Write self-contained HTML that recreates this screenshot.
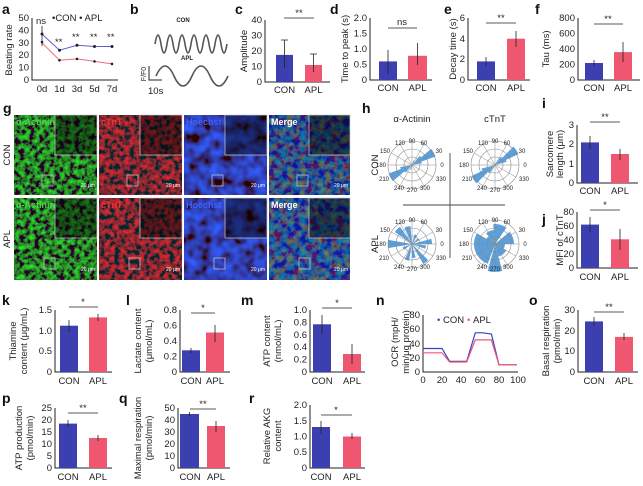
<!DOCTYPE html>
<html><head><meta charset="utf-8"><style>
html,body{margin:0;padding:0;background:#fff}
svg{display:block}
text{font-family:"Liberation Sans",Arial,sans-serif;fill:#222}
.t{font-size:9.5px}
.l{font-size:14px;font-weight:bold;fill:#111}
.ax{stroke:#222;stroke-width:1;fill:none}
.cb{fill:#3b3fb0}
.ab{fill:#ef5670}
.eb{stroke:#222;stroke-width:0.8;fill:none}
</style></head><body>
<svg width="643" height="486" viewBox="0 0 643 486" xmlns="http://www.w3.org/2000/svg">
<defs>
<filter id="fG" x="0" y="0" width="100%" height="100%"><feTurbulence type="fractalNoise" baseFrequency="0.2" numOctaves="3" seed="2"/><feColorMatrix type="matrix" values="0 0 0 0 0.02  1.7 0 0 0 -0.62  0 0 0 0 0.02  0 0 0 0 1"/></filter>
<filter id="fR" x="0" y="0" width="100%" height="100%"><feTurbulence type="fractalNoise" baseFrequency="0.2" numOctaves="3" seed="5"/><feColorMatrix type="matrix" values="1.7 0 0 0 -0.62  0 0 0 0 0.02  0 0 0 0 0.03  0 0 0 0 1"/></filter>
<filter id="fB" x="0" y="0" width="100%" height="100%"><feTurbulence type="fractalNoise" baseFrequency="0.09" numOctaves="2" seed="8"/><feColorMatrix type="matrix" values="0 0 0 0 0.03  0.2 0 0 0 -0.05  1.9 0 0 0 -0.5  0 0 0 0 1"/></filter>
<filter id="fM" x="0" y="0" width="100%" height="100%"><feTurbulence type="fractalNoise" baseFrequency="0.16" numOctaves="3" seed="11"/><feColorMatrix type="matrix" values="1.6 0 0 0 -0.7  0 2 0 0 -0.75  -1.5 0 0 0 1.0  0 0 0 0 1"/></filter>
</defs>

<!-- a -->
<text class="l" x="2" y="14">a</text>
<g class="ax"><path d="M32 18V80H118"/></g>
<g class="t" text-anchor="end"><text x="29" y="21">50</text><text x="29" y="33.4">40</text><text x="29" y="45.8">30</text><text x="29" y="58.2">20</text><text x="29" y="70.6">10</text><text x="29" y="83">0</text></g>
<text class="t" transform="translate(12,50) rotate(-90)" text-anchor="middle">Beating rate</text>
<g class="t" text-anchor="middle"><text x="42" y="92">0d</text><text x="59.5" y="92">1d</text><text x="77" y="92">3d</text><text x="94.5" y="92">5d</text><text x="112" y="92">7d</text></g>
<polyline points="42,34.1 59.5,50.2 77,45.3 94.5,46.5 112,46.5" stroke="#5a5fd0" fill="none" stroke-width="1"/>
<polyline points="42,42.8 59.5,60.2 77,58.9 94.5,61.4 112,63.9" stroke="#ef6a80" fill="none" stroke-width="1"/>
<g fill="#222"><circle cx="42" cy="34" r="1.5"/><circle cx="59.5" cy="50.2" r="1.5"/><circle cx="77" cy="45.3" r="1.5"/><circle cx="94.5" cy="46.5" r="1.5"/><circle cx="112" cy="46.5" r="1.5"/><circle cx="59.5" cy="60.2" r="1.3"/><circle cx="77" cy="58.9" r="1.3"/><circle cx="94.5" cy="61.4" r="1.3"/><circle cx="112" cy="63.9" r="1.3"/><circle cx="42" cy="42" r="1.3"/></g>
<path d="M42 26V46" class="eb"/>
<g class="t"><text x="36" y="24">ns</text><text x="55" y="45">**</text><text x="72" y="40">**</text><text x="90" y="40">**</text><text x="107" y="40">**</text></g>
<text class="t" x="52" y="21">•CON • APL</text>

<!-- b -->
<text class="l" x="130" y="14">b</text>
<text x="183" y="22" font-size="6" font-weight="bold" text-anchor="middle">CON</text>
<path d="M155 44 q3 -18 6 0 q3 18 6 0 q3 -18 6 0 q3 18 6 0 q3 -18 6 0 q3 18 6 0 q3 -18 6 0 q3 18 6 0 q3 -18 6 0 q3 18 6 0 q3 -18 6 0 q3 18 6 0" stroke="#555" stroke-width="1.6" fill="none"/>
<text x="187" y="60" font-size="6" font-weight="bold" text-anchor="middle">APL</text>
<path d="M156 76 q9 -20 18 0 t18 0 t18 0 t18 0" stroke="#555" stroke-width="1.6" fill="none"/>
<path d="M149 66V80H162" stroke="#222" fill="none"/>
<text x="148" y="94" class="t">10s</text>
<text transform="translate(146,74) rotate(-90)" font-size="7" text-anchor="middle">F/F0</text>

<!-- c -->
<text class="l" x="235" y="14">c</text>
<path class="ax" d="M265 20V82H330"/>
<g class="t" text-anchor="end"><text x="262" y="23">40</text><text x="262" y="38.5">30</text><text x="262" y="54">20</text><text x="262" y="69.5">10</text><text x="262" y="85">0</text></g>
<text class="t" transform="translate(247,51) rotate(-90)" text-anchor="middle">Amplitude</text>
<rect class="cb" x="276" y="54.9" width="17" height="27.1"/><rect class="ab" x="305" y="65" width="17" height="17"/>
<path class="eb" d="M284.5 40V68M281 40h7M313.5 54V72M310 54h7"/>
<path class="eb" d="M284 18H314"/><text class="t" x="299" y="16" text-anchor="middle">**</text>
<g class="t" text-anchor="middle"><text x="284.5" y="93">CON</text><text x="313.5" y="93">APL</text></g>

<!-- d -->
<text class="l" x="330" y="14">d</text>
<path class="ax" d="M370 18V80H432"/>
<g class="t" text-anchor="end"><text x="367" y="21">2.0</text><text x="367" y="36.5">1.5</text><text x="367" y="52">1.0</text><text x="367" y="67.5">0.5</text><text x="367" y="83">0</text></g>
<text class="t" transform="translate(348,49) rotate(-90)" text-anchor="middle">Time to peak (s)</text>
<rect class="cb" x="379" y="61.4" width="18" height="18.6"/><rect class="ab" x="408" y="55.8" width="19" height="24.2"/>
<path class="eb" d="M388 50V74M417.5 43V65"/>
<path class="eb" d="M388 28H417"/><text class="t" x="402" y="25" text-anchor="middle">ns</text>
<g class="t" text-anchor="middle"><text x="388" y="91">CON</text><text x="417.5" y="91">APL</text></g>

<!-- e -->
<text class="l" x="444" y="14">e</text>
<path class="ax" d="M468 18V80H530"/>
<g class="t" text-anchor="end"><text x="465" y="21">6</text><text x="465" y="42">4</text><text x="465" y="62">2</text><text x="465" y="83">0</text></g>
<text class="t" transform="translate(456,49) rotate(-90)" text-anchor="middle">Decay time (s)</text>
<rect class="cb" x="477" y="61.4" width="18" height="18.6"/><rect class="ab" x="507" y="38.7" width="18" height="41.3"/>
<path class="eb" d="M486 57V66M516 31V47"/>
<path class="eb" d="M486 23H516"/><text class="t" x="501" y="21" text-anchor="middle">**</text>
<g class="t" text-anchor="middle"><text x="486" y="91">CON</text><text x="516" y="91">APL</text></g>

<!-- f -->
<text class="l" x="535" y="14">f</text>
<path class="ax" d="M578 18V80H640"/>
<g class="t" text-anchor="end"><text x="575" y="21">800</text><text x="575" y="36.5">600</text><text x="575" y="52">400</text><text x="575" y="67.5">200</text><text x="575" y="83">0</text></g>
<text class="t" transform="translate(549,49) rotate(-90)" text-anchor="middle">Tau (ms)</text>
<rect class="cb" x="585" y="63" width="18" height="17"/><rect class="ab" x="614" y="52.1" width="18" height="27.9"/>
<path class="eb" d="M594 60V66M623 42V62"/>
<path class="eb" d="M594 24H623"/><text class="t" x="608" y="22" text-anchor="middle">**</text>
<g class="t" text-anchor="middle"><text x="594" y="91">CON</text><text x="623" y="91">APL</text></g>

<!-- g -->
<text class="l" x="3" y="113">g</text>
<text class="t" transform="translate(10,155) rotate(-90)" text-anchor="middle">CON</text>
<text class="t" transform="translate(10,239) rotate(-90)" text-anchor="middle">APL</text>
<g>
<rect x="14" y="115" width="83" height="80" filter="url(#fG)"/>
<rect x="99" y="115" width="83" height="80" filter="url(#fR)"/>
<rect x="184" y="115" width="83" height="80" filter="url(#fB)"/>
<rect x="269" y="115" width="81" height="80" fill="#1a2688"/><rect x="269" y="115" width="81" height="80" filter="url(#fM)" opacity="0.45"/>
<rect x="14" y="198" width="83" height="82" filter="url(#fG)"/>
<rect x="99" y="198" width="83" height="82" filter="url(#fR)"/>
<rect x="184" y="198" width="83" height="82" filter="url(#fB)"/>
<rect x="269" y="198" width="81" height="82" fill="#1c2a94"/><rect x="269" y="198" width="81" height="82" filter="url(#fM)" opacity="0.45"/>
</g>
<g fill="#000" fill-opacity="0.45" stroke="#ccc" stroke-width="0.7">
<rect x="55" y="115" width="42" height="40"/><rect x="140" y="115" width="42" height="40"/><rect x="225" y="115" width="42" height="40"/><rect x="309" y="115" width="41" height="40"/>
<rect x="55" y="198" width="42" height="40"/><rect x="140" y="198" width="42" height="40"/><rect x="225" y="198" width="42" height="40"/><rect x="309" y="198" width="41" height="40"/>
</g>
<g fill="none" stroke="#ccc" stroke-width="0.7">
<rect x="42" y="175" width="11" height="11"/><rect x="127" y="175" width="11" height="11"/><rect x="212" y="175" width="11" height="11"/><rect x="297" y="175" width="11" height="11"/>
<rect x="44" y="258" width="11" height="11"/><rect x="129" y="258" width="11" height="11"/><rect x="214" y="258" width="11" height="11"/><rect x="299" y="258" width="11" height="11"/>
</g>
<g font-size="9" font-weight="bold">
<text x="16" y="125" style="fill:#4dd04d">α-Actinin</text><text x="101" y="125" style="fill:#ff3030">cTnT</text><text x="186" y="125" style="fill:#4060ff">Hoechst</text><text x="271" y="125" style="fill:#fff">Merge</text>
<text x="16" y="208" style="fill:#4dd04d">α-Actinin</text><text x="101" y="208" style="fill:#ff3030">cTnT</text><text x="186" y="208" style="fill:#4060ff">Hoechst</text><text x="271" y="208" style="fill:#fff">Merge</text>
</g>
<g font-size="5"><text x="81" y="187" style="fill:#fff">20 μm</text><text x="166" y="187" style="fill:#fff">20 μm</text><text x="251" y="187" style="fill:#fff">20 μm</text><text x="334" y="187" style="fill:#fff">20 μm</text>
<text x="81" y="271" style="fill:#fff">20 μm</text><text x="166" y="271" style="fill:#fff">20 μm</text><text x="251" y="271" style="fill:#fff">20 μm</text><text x="334" y="271" style="fill:#fff">20 μm</text></g>

<!-- h -->
<text class="l" x="362" y="113">h</text>
<text class="t" x="412" y="122" text-anchor="middle">α-Actinin</text>
<text class="t" x="495" y="122" text-anchor="middle">cTnT</text>
<text class="t" transform="translate(378,165) rotate(-90)" text-anchor="middle">CON</text>
<text class="t" transform="translate(378,244) rotate(-90)" text-anchor="middle">APL</text>
<path d="M450 153V258M403 205H505" stroke="#444" stroke-width="0.9"/>
<g id="polars"></g>

<!-- i -->
<text class="l" x="542" y="108">i</text>
<path class="ax" d="M577 125V183H638"/>
<g class="t" text-anchor="end"><text x="574" y="128">3</text><text x="574" y="147">2</text><text x="574" y="167">1</text><text x="574" y="186">0</text></g>
<text class="t" transform="translate(553,154) rotate(-90)" text-anchor="middle">Sarcomere</text>
<text class="t" transform="translate(563,154) rotate(-90)" text-anchor="middle">length (μm)</text>
<rect class="cb" x="581" y="142.4" width="18" height="40.6"/><rect class="ab" x="611" y="154" width="18" height="29"/>
<path class="eb" d="M590 136V149M620 149V160"/>
<path class="eb" d="M590 122H620"/><text class="t" x="605" y="120" text-anchor="middle">**</text>
<g class="t" text-anchor="middle"><text x="590" y="194">CON</text><text x="620" y="194">APL</text></g>

<!-- j -->
<text class="l" x="542" y="224">j</text>
<path class="ax" d="M577 212V268H638"/>
<g class="t" text-anchor="end"><text x="574" y="215">80</text><text x="574" y="229">60</text><text x="574" y="243">40</text><text x="574" y="257">20</text><text x="574" y="271">0</text></g>
<text class="t" transform="translate(563,240) rotate(-90)" text-anchor="middle">MFI of cTnT</text>
<rect class="cb" x="581" y="224.6" width="18" height="43.4"/><rect class="ab" x="611" y="239.3" width="18" height="28.7"/>
<path class="eb" d="M590 217V232M620 229V250"/>
<path class="eb" d="M590 210H620"/><text class="t" x="605" y="208" text-anchor="middle">*</text>
<g class="t" text-anchor="middle"><text x="590" y="280">CON</text><text x="620" y="280">APL</text></g>

<!-- k -->
<text class="l" x="2" y="305">k</text>
<path class="ax" d="M55 310V372H112"/>
<g class="t" text-anchor="end"><text x="52" y="313">1.5</text><text x="52" y="334">1.0</text><text x="52" y="354">0.5</text><text x="52" y="375">0</text></g>
<text class="t" transform="translate(16,341) rotate(-90)" text-anchor="middle">Thiamine</text>
<text class="t" transform="translate(27,341) rotate(-90)" text-anchor="middle">content (μg/mL)</text>
<rect class="cb" x="60" y="325.7" width="18" height="46.3"/><rect class="ab" x="89" y="317.4" width="18" height="54.6"/>
<path class="eb" d="M69 320V332M98 314V321"/>
<path class="eb" d="M69 307H98"/><text class="t" x="83" y="305" text-anchor="middle">*</text>
<g class="t" text-anchor="middle"><text x="69" y="384">CON</text><text x="98" y="384">APL</text></g>

<!-- l -->
<text class="l" x="126" y="305">l</text>
<path class="ax" d="M180 310V372H230"/>
<g class="t" text-anchor="end"><text x="177" y="313">0.8</text><text x="177" y="328.5">0.6</text><text x="177" y="344">0.4</text><text x="177" y="359.5">0.2</text><text x="177" y="375">0</text></g>
<text class="t" transform="translate(141,341) rotate(-90)" text-anchor="middle">Lactate content</text>
<text class="t" transform="translate(152,341) rotate(-90)" text-anchor="middle">(μmol/mL)</text>
<rect class="cb" x="182" y="350.3" width="18" height="21.7"/><rect class="ab" x="206" y="332.5" width="18" height="39.5"/>
<path class="eb" d="M191 348V353M215 325V342"/>
<path class="eb" d="M191 313H215"/><text class="t" x="203" y="311" text-anchor="middle">*</text>
<g class="t" text-anchor="middle"><text x="191" y="384">CON</text><text x="215" y="384">APL</text></g>

<!-- m -->
<text class="l" x="241" y="305">m</text>
<path class="ax" d="M310 310V372H365"/>
<g class="t" text-anchor="end"><text x="307" y="313">1.0</text><text x="307" y="325.4">0.8</text><text x="307" y="337.8">0.6</text><text x="307" y="350.2">0.4</text><text x="307" y="362.6">0.2</text><text x="307" y="375">0</text></g>
<text class="t" transform="translate(270,341) rotate(-90)" text-anchor="middle">ATP content</text>
<text class="t" transform="translate(281,341) rotate(-90)" text-anchor="middle">(nmol/mL)</text>
<rect class="cb" x="313" y="324.3" width="18" height="47.7"/><rect class="ab" x="343" y="354" width="18" height="18"/>
<path class="eb" d="M322 315V334M352 344V364"/>
<path class="eb" d="M322 308H352"/><text class="t" x="337" y="306" text-anchor="middle">*</text>
<g class="t" text-anchor="middle"><text x="322" y="384">CON</text><text x="352" y="384">APL</text></g>

<!-- n -->
<text class="l" x="376" y="305">n</text>
<path class="ax" d="M423 315V372H518"/>
<g class="t" text-anchor="end"><text x="420" y="318">80</text><text x="420" y="332">60</text><text x="420" y="347">40</text><text x="420" y="361">20</text><text x="420" y="375">0</text></g>
<g class="t" text-anchor="middle"><text x="423" y="383">0</text><text x="442" y="383">20</text><text x="461" y="383">40</text><text x="480" y="383">60</text><text x="499" y="383">80</text><text x="518" y="383">100</text></g>
<text class="t" transform="translate(398,342) rotate(-90)" text-anchor="middle">OCR (mpH/</text>
<text class="t" transform="translate(409,342) rotate(-90)" text-anchor="middle">min/μg protein)</text>
<polyline points="423,348.5 432.5,348.5 442,348.5 449.6,361.3 458.2,361.3 466.7,361.3 475.3,332.8 482.9,332.8 491.4,334 499,364.9 508.5,364.9 517,364.9" fill="none" stroke="#3b3fd0" stroke-width="1.2"/>
<polyline points="423,352.8 432.5,352.8 442,352.8 449.6,362 458.2,362 466.7,362 475.3,339.9 482.9,339.9 491.4,339.9 499,364.9 508.5,364.9 517,364.9" fill="none" stroke="#ef5670" stroke-width="1.2"/>
<g class="t"><text x="437" y="323" style="fill:#3b3fd0">•</text><text x="443" y="323">CON</text><text x="467" y="323" style="fill:#ef5670">•</text><text x="473" y="323">APL</text></g>

<!-- o -->
<text class="l" x="529" y="305">o</text>
<path class="ax" d="M578 310V372H638"/>
<g class="t" text-anchor="end"><text x="575" y="313">30</text><text x="575" y="334">20</text><text x="575" y="354">10</text><text x="575" y="375">0</text></g>
<text class="t" transform="translate(549,341) rotate(-90)" text-anchor="middle">Basal respiration</text>
<text class="t" transform="translate(560,341) rotate(-90)" text-anchor="middle">(pmol/min)</text>
<rect class="cb" x="585" y="321.4" width="18" height="50.6"/><rect class="ab" x="615" y="336.9" width="18" height="35.1"/>
<path class="eb" d="M594 317V326M624 333V340"/>
<path class="eb" d="M594 312H624"/><text class="t" x="609" y="310" text-anchor="middle">**</text>
<g class="t" text-anchor="middle"><text x="594" y="384">CON</text><text x="624" y="384">APL</text></g>

<!-- p -->
<text class="l" x="2" y="403">p</text>
<path class="ax" d="M55 408V468H112"/>
<g class="t" text-anchor="end"><text x="52" y="411">25</text><text x="52" y="423">20</text><text x="52" y="435">15</text><text x="52" y="447">10</text><text x="52" y="459">5</text><text x="52" y="471">0</text></g>
<text class="t" transform="translate(22,438) rotate(-90)" text-anchor="middle">ATP production</text>
<text class="t" transform="translate(33,438) rotate(-90)" text-anchor="middle">(pmol/min)</text>
<rect class="cb" x="59" y="423.6" width="18" height="44.4"/><rect class="ab" x="89" y="438" width="18" height="30"/>
<path class="eb" d="M68 420V427M98 435V441"/>
<path class="eb" d="M68 413H98"/><text class="t" x="83" y="411" text-anchor="middle">**</text>
<g class="t" text-anchor="middle"><text x="68" y="480">CON</text><text x="98" y="480">APL</text></g>

<!-- q -->
<text class="l" x="119" y="403">q</text>
<path class="ax" d="M178 408V468H230"/>
<g class="t" text-anchor="end"><text x="175" y="411">50</text><text x="175" y="423">40</text><text x="175" y="435">30</text><text x="175" y="447">20</text><text x="175" y="459">10</text><text x="175" y="471">0</text></g>
<text class="t" transform="translate(141,438) rotate(-90)" text-anchor="middle">Maximal respiration</text>
<text class="t" transform="translate(152,438) rotate(-90)" text-anchor="middle">(pmol/min)</text>
<rect class="cb" x="180" y="414" width="19" height="54"/><rect class="ab" x="207" y="426" width="18" height="42"/>
<path class="eb" d="M189.5 412V416M216 421V432"/>
<path class="eb" d="M190 409H216"/><text class="t" x="203" y="407" text-anchor="middle">**</text>
<g class="t" text-anchor="middle"><text x="190" y="480">CON</text><text x="216" y="480">APL</text></g>

<!-- r -->
<text class="l" x="249" y="403">r</text>
<path class="ax" d="M310 405V468H365"/>
<g class="t" text-anchor="end"><text x="307" y="408">2.0</text><text x="307" y="424">1.5</text><text x="307" y="439.5">1.0</text><text x="307" y="455">0.5</text><text x="307" y="471">0</text></g>
<text class="t" transform="translate(270,436) rotate(-90)" text-anchor="middle">Relative AKG</text>
<text class="t" transform="translate(281,436) rotate(-90)" text-anchor="middle">content</text>
<rect class="cb" x="312" y="427" width="18" height="41"/><rect class="ab" x="343" y="436.5" width="18" height="31.5"/>
<path class="eb" d="M321 421V434M352 433V439"/>
<path class="eb" d="M321 415H352"/><text class="t" x="336" y="413" text-anchor="middle">*</text>
<g class="t" text-anchor="middle"><text x="321" y="480">CON</text><text x="352" y="480">APL</text></g>

<!-- polar labels -->
<g font-size="6" text-anchor="middle">
<text x="412" y="143">90</text><text x="424" y="145">60</text><text x="400" y="145">120</text><text x="439" y="153">30</text><text x="385" y="153">150</text><text x="442" y="167">0</text><text x="381" y="167">180</text><text x="441" y="181">330</text><text x="384" y="181">210</text><text x="399" y="190">240</text><text x="412" y="192">270</text><text x="425" y="190">300</text>
<text x="495" y="143">90</text><text x="507" y="145">60</text><text x="483" y="145">120</text><text x="522" y="153">30</text><text x="468" y="153">150</text><text x="525" y="167">0</text><text x="464" y="167">180</text><text x="524" y="181">330</text><text x="467" y="181">210</text><text x="482" y="190">240</text><text x="495" y="192">270</text><text x="508" y="190">300</text>
<text x="412" y="222">90</text><text x="424" y="224">60</text><text x="400" y="224">120</text><text x="439" y="232">30</text><text x="385" y="232">150</text><text x="442" y="246">0</text><text x="381" y="246">180</text><text x="441" y="260">330</text><text x="384" y="260">210</text><text x="399" y="269">240</text><text x="412" y="271">270</text><text x="425" y="269">300</text>
<text x="495" y="222">90</text><text x="507" y="224">60</text><text x="483" y="224">120</text><text x="522" y="232">30</text><text x="468" y="232">150</text><text x="525" y="246">0</text><text x="464" y="246">180</text><text x="524" y="260">330</text><text x="467" y="260">210</text><text x="482" y="269">240</text><text x="495" y="271">270</text><text x="508" y="269">300</text>
</g>
</svg>
<script>
(function(){
var ns="http://www.w3.org/2000/svg",g=document.getElementById("polars");
function el(n,a){var e=document.createElementNS(ns,n);for(var k in a)e.setAttribute(k,a[k]);g.appendChild(e);return e;}
function P(cx,cy,r,d){var a=d*Math.PI/180;return [cx+r*Math.cos(a),cy-r*Math.sin(a)];}
function polar(cx,cy,w){
 w.forEach(function(s){var p1=P(cx,cy,s[2],s[0]),p2=P(cx,cy,s[2],s[1]);
  el("path",{d:"M"+cx+" "+cy+"L"+p1[0]+" "+p1[1]+"A"+s[2]+" "+s[2]+" 0 0 0 "+p2[0]+" "+p2[1]+"Z",fill:"#5aa0dc"});});
 [8,16,24].forEach(function(r){el("circle",{cx:cx,cy:cy,r:r,fill:"none",stroke:"#888","stroke-width":0.6});});
 for(var d=0;d<360;d+=30){var p=P(cx,cy,24,d);el("line",{x1:cx,y1:cy,x2:p[0],y2:p[1],stroke:"#888","stroke-width":0.5});}
}
var con1=[[20,40,25],[200,220,25],[40,50,12],[10,20,10],[190,200,12],[220,230,10],[60,70,5],[250,260,5]];
var con2=[[25,45,26],[205,225,26],[15,25,12],[45,55,10],[195,205,14],[225,235,10]];
var apl1=[[95,115,18],[125,145,21],[170,190,24],[0,15,20],[340,355,14],[300,315,23],[245,260,17],[270,285,14],[60,75,10],[200,215,10],[30,45,8]];
var apl2=[[55,95,20],[95,130,14],[150,250,21],[255,285,28],[285,330,13],[0,40,19],[330,360,10],[130,150,10]];
polar(412,165,con1);polar(495,165,con2);polar(412,244,apl1);polar(495,244,apl2);
})();
</script>
</body></html>
